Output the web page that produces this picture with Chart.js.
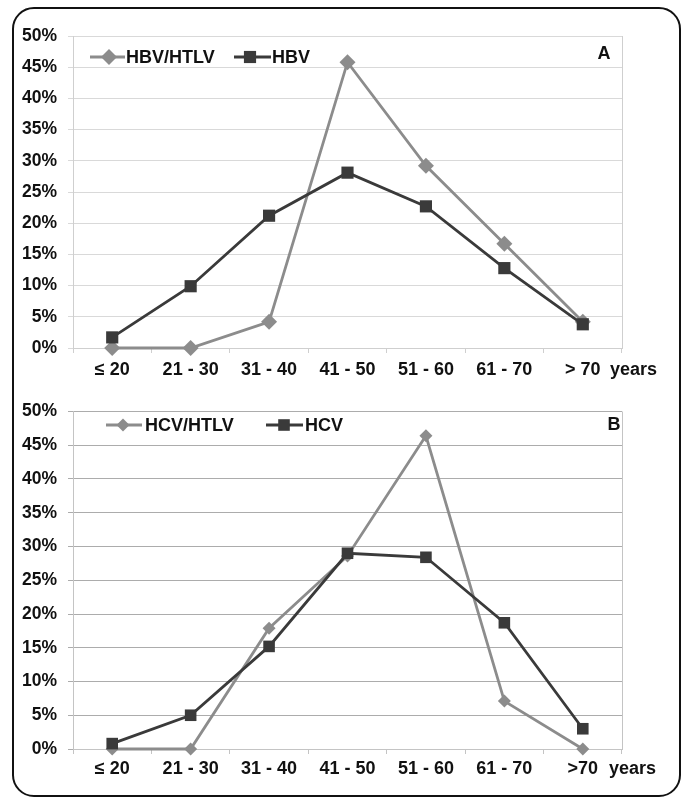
<!DOCTYPE html>
<html><head><meta charset="utf-8">
<script src="https://cdn.jsdelivr.net/npm/chart.js@4"></script>
<style>
html,body{margin:0;padding:0;background:#fff;}
#wrap{position:relative;width:685px;height:799px;overflow:hidden;background:#fff;}
#frame{position:absolute;left:12px;top:7px;width:665px;height:786px;border:2px solid #111;border-radius:22px;}
.c{position:absolute;left:0;width:685px;}
</style></head><body>
<div id="wrap"><div id="frame"></div>
<div class="c" style="top:0;height:390px"><canvas id="ca"></canvas></div>
<div class="c" style="top:390px;height:409px"><canvas id="cb"></canvas></div>
</div>
<script>
// ---- data ----
const categoriesA = ['≤ 20', '21 - 30', '31 - 40', '41 - 50', '51 - 60', '61 - 70', '> 70'];
const categoriesB = ['≤ 20', '21 - 30', '31 - 40', '41 - 50', '51 - 60', '61 - 70', '>70'];
const seriesNamesA = ['HBV/HTLV', 'HBV'];
const seriesNamesB = ['HCV/HTLV', 'HCV'];
const hbvHtlv = [0, 0, 4.2, 45.8, 29.2, 16.7, 4.2];
const hbv     = [1.7, 9.9, 21.2, 28.1, 22.7, 12.8, 3.8];
const hcvHtlv = [0, 0, 17.9, 28.6, 46.4, 7.1, 0];
const hcv     = [0.8, 5.0, 15.2, 29.0, 28.4, 18.7, 3.0];
const yTicks  = [0, 5, 10, 15, 20, 25, 30, 35, 40, 45, 50];
const panelLetters = ['A', 'B'];
const unitLabel = 'years';

const GRAY = '#8c8c8c', DARK = '#3a3a3a';
const FONT = '"Liberation Sans", Arial, sans-serif';

function drawMarker(ctx, style, x, y, r, color) {
  ctx.save();
  ctx.fillStyle = color;
  ctx.beginPath();
  if (style === 'rectRot') {
    ctx.moveTo(x, y - r); ctx.lineTo(x + r, y); ctx.lineTo(x, y + r); ctx.lineTo(x - r, y);
  } else {
    const s = Math.SQRT1_2 * r;
    ctx.rect(x - s, y - s, 2 * s, 2 * s);
  }
  ctx.closePath(); ctx.fill();
  ctx.restore();
}

function makeChart(id, cfg) {
  const deco = {
    id: 'deco',
    afterDraw(chart) {
      const ctx = chart.ctx, a = chart.chartArea;
      ctx.save();
      ctx.strokeStyle = cfg.frameColor; ctx.lineWidth = 1;
      ctx.beginPath(); ctx.moveTo(Math.round(a.right) + 0.5, a.top); ctx.lineTo(Math.round(a.right) + 0.5, a.bottom); ctx.stroke();
      ctx.font = 'bold 18px ' + FONT;
      ctx.textBaseline = 'middle'; ctx.textAlign = 'left';
      cfg.legend.forEach((it, i) => {
        const ds = chart.data.datasets[i];
        ctx.strokeStyle = ds.borderColor; ctx.lineWidth = ds.borderWidth;
        ctx.beginPath(); ctx.moveTo(it.x0, cfg.legendY); ctx.lineTo(it.x1, cfg.legendY); ctx.stroke();
        drawMarker(ctx, ds.pointStyle, it.m, cfg.legendY, ds.pointRadius, ds.pointBackgroundColor);
        ctx.fillStyle = '#111';
        ctx.fillText(ds.label, it.t, cfg.legendY + 1);
      });
      ctx.textAlign = 'center';
      ctx.fillText(cfg.letter, cfg.letterX, cfg.letterY);
      ctx.textAlign = 'left';
      ctx.fillText(unitLabel, cfg.unitX, cfg.unitY);
      ctx.restore();
    }
  };
  return new Chart(document.getElementById(id), {
    type: 'line',
    data: {
      labels: cfg.labels,
      datasets: [
        { label: cfg.names[0], data: cfg.s1, borderColor: GRAY, backgroundColor: GRAY,
          pointBackgroundColor: GRAY, pointBorderColor: GRAY, pointBorderWidth: 0, clip: false,
          pointStyle: 'rectRot', pointRadius: cfg.dR, borderWidth: 2.8, order: 1 },
        { label: cfg.names[1], data: cfg.s2, borderColor: DARK, backgroundColor: DARK,
          pointBackgroundColor: DARK, pointBorderColor: DARK, pointBorderWidth: 0, clip: false,
          pointStyle: 'rect', pointRadius: cfg.sR, borderWidth: 2.8, order: 0 }
      ]
    },
    options: {
      responsive: true, maintainAspectRatio: false, animation: false, devicePixelRatio: 1,
      layout: { padding: { left: 0, right: 63, top: cfg.padTop, bottom: 0 } },
      plugins: { legend: { display: false }, tooltip: { enabled: false } },
      scales: {
        x: {
          offset: true,
          grid: { offset: true, drawOnChartArea: false, drawTicks: true, tickLength: 5, color: cfg.frameColor },
          border: { display: true, color: cfg.frameColor },
          ticks: { color: '#111', font: { family: FONT, size: 18, weight: 'bold' }, padding: cfg.xPad, maxRotation: 0, autoSkip: false },
          afterFit(s) { s.height = cfg.xH; }
        },
        y: {
          min: yTicks[0], max: yTicks[yTicks.length - 1],
          afterBuildTicks(s) { s.ticks = yTicks.map(v => ({ value: v })); },
          grid: { color: cfg.gridColor, tickLength: 5, drawTicks: true },
          border: { display: true, color: cfg.frameColor },
          ticks: { color: '#111', font: { family: FONT, size: 17.5, weight: 'bold' }, padding: 11, callback: v => v + '%' },
          afterFit(s) { s.width = 73; }
        }
      }
    },
    plugins: [deco]
  });
}

makeChart('ca', {
  labels: categoriesA, names: seriesNamesA, s1: hbvHtlv, s2: hbv,
  dR: 8, sR: 8.6, padTop: 36, xH: 42, xPad: 6,
  gridColor: '#d9d9d9', frameColor: '#cfcfcf',
  legendY: 57, legend: [{ x0: 90, x1: 125, m: 109, t: 126 }, { x0: 234, x1: 271, m: 250, t: 272 }],
  letter: panelLetters[0], letterX: 604, letterY: 54, unitX: 610, unitY: 370
});
makeChart('cb', {
  labels: categoriesB, names: seriesNamesB, s1: hcvHtlv, s2: hcv,
  dR: 6.5, sR: 8.2, padTop: 14, xH: 50, xPad: 4,
  gridColor: '#acacac', frameColor: '#c4c4c4',
  legendY: 35, legend: [{ x0: 106, x1: 142, m: 123, t: 145 }, { x0: 266, x1: 303, m: 284, t: 305 }],
  letter: panelLetters[1], letterX: 614, letterY: 35, unitX: 609, unitY: 379
});
</script>
</body></html>
